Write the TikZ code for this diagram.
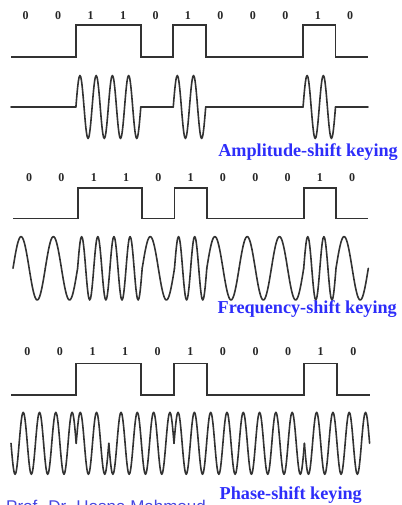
\documentclass[tikz,border=0pt]{standalone}
\usepackage{fontspec}
\setmainfont{Liberation Serif}
\newfontfamily\footfont{Liberation Sans}
\definecolor{lblue}{RGB}{45,45,250}
\definecolor{fblue}{RGB}{70,70,225}
\definecolor{ink}{RGB}{50,50,50}
\begin{document}
\begin{tikzpicture}[x=1pt,y=-1pt,
  digital/.style={line width=1.9pt, draw=ink, line join=miter},
  wave/.style={line width=1.6pt, draw=ink, line cap=round, line join=round},
  bitlabel/.style={font=\fontsize{12}{12}\selectfont\bfseries, inner sep=0pt, text=black!85},
  keytitle/.style={font=\fontsize{18.2}{18.2}\selectfont\bfseries, text=lblue, inner sep=0pt, anchor=base east},
  footer/.style={font=\footfont\fontsize{17}{17}\selectfont, text=fblue, inner sep=0pt, anchor=base west}]
\useasboundingbox (0,0) rectangle (401,505);
\newcommand\digsig[4]{%
  \draw[digital] (#1,#4) -- ({#1+2*#2},#4) -- ({#1+2*#2},#3) -- ({#1+4*#2},#3) -- ({#1+4*#2},#4)
    -- ({#1+5*#2},#4) -- ({#1+5*#2},#3) -- ({#1+6*#2},#3) -- ({#1+6*#2},#4)
    -- ({#1+9*#2},#4) -- ({#1+9*#2},#3) -- ({#1+10*#2},#3) -- ({#1+10*#2},#4) -- ({#1+11*#2},#4);}
% ---------- ASK ----------
\foreach \b [count=\i from 0] in {0,0,1,1,0,1,0,0,0,1,0}
  \node[bitlabel] (a\i) at ({11+(\i+0.5)*32.45-1.5},15.5) {\b};
\digsig{11}{32.45}{25}{57}
\foreach \b [count=\i from 0] in {0,0,1,1,0,1,0,0,0,1,0} {
  \pgfmathsetmacro\xa{11+\i*32.45}
  \pgfmathsetmacro\xb{\xa+32.45}
  \ifnum\b=1
    \draw[wave] plot[domain=\xa:\xb, samples=41, smooth] (\x,{107-31.5*sin((\x-\xa)/32.45*720)});
  \else
    \draw[wave] (\xa,107) -- (\xb,107);
  \fi
}
\node[keytitle] (ask) at (398,157) {Amplitude-shift keying};
% ---------- FSK ----------
\foreach \b [count=\i from 0] in {0,0,1,1,0,1,0,0,0,1,0}
  \node[bitlabel] (f\i) at ({13+(\i+0.5)*32.3},177.5) {\b};
\digsig{13}{32.3}{188}{218.5}
\foreach \b [count=\i from 0] in {0,0,1,1,0,1,0,0,0,1,0} {
  \pgfmathsetmacro\xa{13+\i*32.3}
  \pgfmathsetmacro\xb{\xa+32.3}
  \draw[wave] plot[domain=\xa:\xb, samples=41, smooth] (\x,{268.3-31.7*sin((\x-\xa)/32.3*360*(1+\b))});
}
\node[keytitle] (fsk) at (397,313) {Frequency-shift keying};
% ---------- PSK ----------
\foreach \b [count=\i from 0] in {0,0,1,1,0,1,0,0,0,1,0}
  \node[bitlabel] (p\i) at ({11+(\i+0.5)*32.6},352) {\b};
\digsig{11}{32.6}{363.5}{395}
\foreach \s [count=\i from 0] in {-1,-1,1,-1,-1,1,1,1,1,-1,-1} {
  \pgfmathsetmacro\xa{11+\i*32.6}
  \pgfmathsetmacro\xb{\xa+32.6}
  \draw[wave] plot[domain=\xa:\xb, samples=41, smooth] (\x,{443.3-31*\s*sin((\x-\xa)/32.6*720)});
}
\node[keytitle] (psk) at (362,499) {Phase-shift keying};
% ---------- footer, cut by the lower edge as in the source ----------
\begin{scope}
  \clip (0,0) rectangle (401,505);
  \node[footer] (foot) at (6,512) {Prof. Dr. Hosna Mahmoud};
\end{scope}
\end{tikzpicture}
\end{document}
